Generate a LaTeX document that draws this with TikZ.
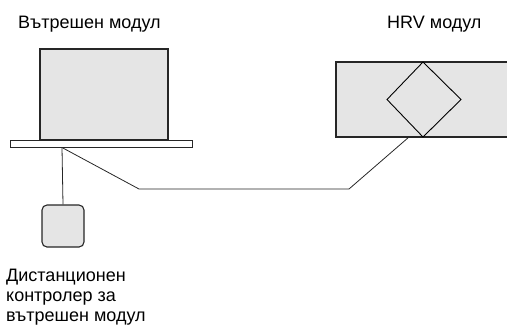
\documentclass[tikz,border=0pt]{standalone}
\usepackage{fontspec}
\setmainfont{Liberation Sans}
\begin{document}
\begin{tikzpicture}[x=1bp,y=-1bp,
  unit/.style={draw=black!85,line width=1.1bp,fill=black!10},
  wire/.style={draw=black!85,line width=0.8bp},
  label/.style={anchor=base west,inner sep=0pt,font=\fontsize{18bp}{20bp}\selectfont}]
\useasboundingbox (0,0) rectangle (507,325);
% indoor unit with mounting plate
\path[unit] (40,49) rectangle (168,140);
\path[draw=black!85,line width=0.9bp,fill=white] (10,140) rectangle (192,147.5);
\coordinate (tap) at (62,147.5);
% wired remote controller
\node[unit,rounded corners=5bp,minimum width=42bp,minimum height=42bp,inner sep=0pt] (rc) at (63,226) {};
% HRV unit (runs off the right edge)
\path[fill=black!10] (336,62) rectangle (507,137);
\draw[draw=black!85,line width=1.1bp] (507,62) -- (336,62) -- (336,137) -- (507,137);
\coordinate (hrvtop) at (423,62);
\coordinate (hrvbot) at (423,137);
\draw[line width=0.9bp] (hrvtop) -- (461,99.5) -- (hrvbot) -- (387,99.5) -- cycle;
\coordinate (hrvport) at (409,137);
% connecting wires
\draw[wire] (tap) -- (rc.north);
\draw[wire] (tap) -- (139,189) -- (349,189) -- (hrvport);
% labels
\node[label] (tin) at (18,28) {Вътрешен модул};
\node[label] (thrv) at (387,28) {HRV модул};
\node[label] (trc) at (6,281) {Дистанционен};
\node[label] at (6,301) {контролер за};
\node[label] at (6,321) {вътрешен модул};
\end{tikzpicture}
\end{document}
